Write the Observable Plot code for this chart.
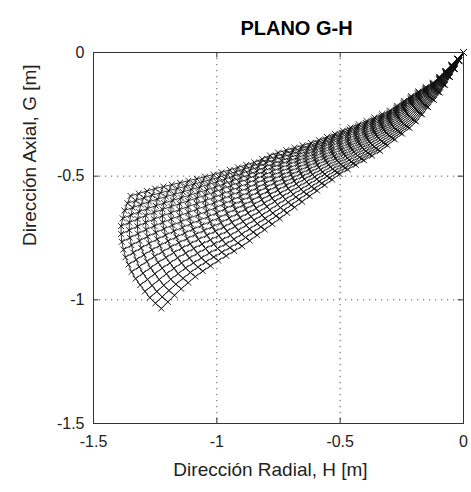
<!DOCTYPE html>
<html><head><meta charset="utf-8">
<script src="https://cdn.jsdelivr.net/npm/d3@7"></script>
<script src="https://cdn.jsdelivr.net/npm/@observablehq/plot@0.6"></script>
<style>body{margin:0;background:#fff}</style>
</head><body><div id="chart"></div>
<script>
const title = "PLANO G-H";
const xLabel = "Dirección Radial, H [m]";
const yLabel = "Dirección Axial, G [m]";
const xTicks = [-1.5, -1, -0.5, 0];
const yTicks = [-1.5, -1, -0.5, 0];
const xDomain = [-1.5, 0];
const yDomain = [-1.5, 0];

// Blade outline (H, G in metres)
const topEdgeH = [-1.35, -1.25, -1.1, -1.0, -0.85, -0.77, -0.6, -0.5, -0.4, -0.3, -0.2, -0.12, -0.06, 0];
const topEdgeG = [-0.58, -0.55, -0.515, -0.49, -0.445, -0.41, -0.36, -0.32, -0.28, -0.236, -0.168, -0.12, -0.062, 0];
const bottomEdgeH = [-1.225, -1.15, -1.08, -1.0, -0.9, -0.77, -0.65, -0.5, -0.34, -0.2, -0.09, -0.03, 0];
const bottomEdgeG = [-1.035, -0.96, -0.9, -0.845, -0.785, -0.69, -0.60, -0.49, -0.40, -0.29, -0.155, -0.06, 0];
const leftEdgeH = [-1.35, -1.375, -1.39, -1.385, -1.37, -1.34, -1.30, -1.265, -1.225];
const leftEdgeG = [-0.58, -0.64, -0.71, -0.77, -0.83, -0.90, -0.955, -1.0, -1.035];
// mesh size (lines of each family)
const nRows = 17;
const nCols = 44;

function edgeFn(hs, gs) {
  const pts = hs.map((h, i) => [h, gs[i]]);
  const cum = [0];
  for (let i = 1; i < pts.length; i++) cum.push(cum[i - 1] + Math.hypot(pts[i][0] - pts[i - 1][0], pts[i][1] - pts[i - 1][1]));
  const L = cum[cum.length - 1];
  return t => {
    const s = t * L;
    let i = d3.bisectRight(cum, s) - 1;
    i = Math.max(0, Math.min(pts.length - 2, i));
    const f = (s - cum[i]) / (cum[i + 1] - cum[i]);
    return [pts[i][0] + f * (pts[i + 1][0] - pts[i][0]), pts[i][1] + f * (pts[i + 1][1] - pts[i][1])];
  };
}
const T = edgeFn(topEdgeH, topEdgeG);
const B = edgeFn(bottomEdgeH, bottomEdgeG);
const Lf = edgeFn(leftEdgeH, leftEdgeG);
const L0 = Lf(0), L1 = Lf(1);

const byRow = [];
for (let j = 0; j < nRows; j++) {
  const v = j / (nRows - 1);
  for (let i = 0; i < nCols; i++) {
    const u = i / (nCols - 1);
    const t = T(u), b = B(u), l = Lf(v);
    const h = (1 - v) * t[0] + v * b[0] + (1 - u) * (l[0] - (1 - v) * L0[0] - v * L1[0]);
    const g = (1 - v) * t[1] + v * b[1] + (1 - u) * (l[1] - (1 - v) * L0[1] - v * L1[1]);
    byRow.push({h, g, row: j, col: i});
  }
}
const byCol = d3.sort(byRow, d => d.col, d => d.row);

const tickLen = 0.022;
const plot = Plot.plot({
  width: 471,
  height: 492,
  marginLeft: 93,
  marginRight: 8,
  marginTop: 52,
  marginBottom: 69,
  style: {fontFamily: "'Liberation Sans', Arial, sans-serif", fontSize: "16px", color: "#222", background: "#fff"},
  x: {domain: xDomain, ticks: xTicks, tickFormat: d => String(d), tickSize: 0, tickPadding: 12, label: null},
  y: {domain: yDomain, ticks: yTicks, tickFormat: d => String(d), tickSize: 0, tickPadding: 9, label: null},
  marks: [
    Plot.ruleX(xTicks, {x: d => d, stroke: "#555", strokeWidth: 1, strokeDasharray: "1.2,4.8"}),
    Plot.ruleY(yTicks, {y: d => d, stroke: "#555", strokeWidth: 1, strokeDasharray: "1.2,4.8"}),
    Plot.ruleX(xTicks, {x: d => d, y1: yDomain[0], y2: yDomain[0] + tickLen, stroke: "#333"}),
    Plot.ruleX(xTicks, {x: d => d, y1: yDomain[1], y2: yDomain[1] - tickLen, stroke: "#333"}),
    Plot.ruleY(yTicks, {y: d => d, x1: xDomain[0], x2: xDomain[0] + tickLen, stroke: "#333"}),
    Plot.ruleY(yTicks, {y: d => d, x1: xDomain[1], x2: xDomain[1] - tickLen, stroke: "#333"}),
    Plot.line(byRow, {x: "h", y: "g", z: "row", stroke: "#000", strokeWidth: 0.8}),
    Plot.line(byCol, {x: "h", y: "g", z: "col", stroke: "#000", strokeWidth: 0.8}),
    Plot.dot(byRow, {x: "h", y: "g", symbol: "times", r: 2.8, stroke: "#111", strokeWidth: 0.9}),
    Plot.frame({stroke: "#333", strokeWidth: 1}),
    Plot.text([title], {frameAnchor: "top", dx: 18, dy: -32, fontWeight: "bold", fontSize: 20, fill: "#000"}),
    Plot.text([xLabel], {frameAnchor: "bottom", dx: -8, dy: 52, fontSize: 19, fill: "#222"}),
    Plot.text([yLabel], {frameAnchor: "left", rotate: -90, dx: -64, dy: 8, fontSize: 19, fill: "#222"})
  ]
});
document.getElementById("chart").appendChild(plot);
</script>
</body></html>
